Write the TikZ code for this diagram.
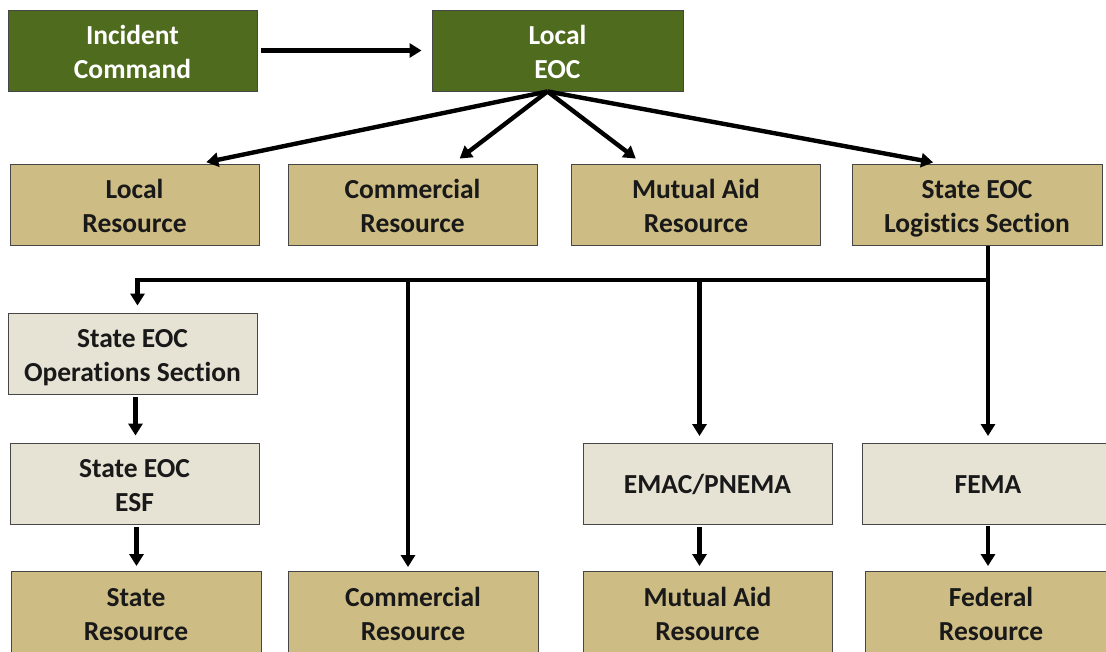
\documentclass[tikz,border=0pt]{standalone}
\usepackage{fontspec}
\setmainfont{Carlito}[Ligatures=NoCommon]
\usetikzlibrary{arrows.meta,calc}
\definecolor{dgreen}{RGB}{79,107,30}
\definecolor{tan}{RGB}{205,188,132}
\definecolor{beige}{RGB}{230,226,212}
\definecolor{edge}{RGB}{70,70,70}
\tikzset{
  box/.style={draw=edge,line width=0.9pt,minimum width=249pt,minimum height=81pt,inner sep=0pt,
    align=center,font=\fontsize{27.5}{34}\selectfont\bfseries,text=black!90,
    text height=56pt,text depth=0pt},
  oneline/.style={text height=18pt,text depth=0pt},
  gbox/.style={box,fill=dgreen,text=white},
  tbox/.style={box,fill=tan},
  bbox/.style={box,fill=beige},
  arr/.style={line width=4.4pt,-{Triangle[width=14pt,length=12pt]}}
}
\begin{document}
\begin{tikzpicture}[x=1pt,y=-1pt]
\useasboundingbox (0,0) rectangle (1106,652);
% row 1
\node[gbox] (ic) at (132.5,50.5) {Incident\\Command};
\node[gbox,minimum width=251pt] (leoc) at (557.5,50.5) {Local\\EOC};
% row 2
\node[tbox] (lr) at (134.5,205) {Local\\Resource};
\node[tbox] (cr) at (412.5,205) {Commercial\\Resource};
\node[tbox] (mr) at (696,205) {Mutual Aid\\Resource};
\node[tbox,minimum width=250pt] (log) at (977,205) {State EOC\\Logistics Section};
% row 3
\node[bbox] (ops) at (132.5,353.5) {State EOC\\Operations Section};
% row 4
\node[bbox] (esf) at (134.5,483.5) {State EOC\\ESF};
\node[bbox,oneline] (emac) at (707.5,484) {EMAC/PNEMA};
\node[bbox,oneline,minimum width=252pt] (fema) at (988,484) {FEMA};
% row 5
\node[tbox,minimum width=250pt] (sr) at (136,612) {State\\Resource};
\node[tbox,minimum width=250pt] (cr2) at (413,612) {Commercial\\Resource};
\node[tbox] (mr2) at (707.5,612) {Mutual Aid\\Resource};
\node[tbox,minimum width=252pt] (fr) at (991,612) {Federal\\Resource};
% connector anchor points
\coordinate (src) at ([xshift=-10pt]leoc.south);
\coordinate (tLR) at ([xshift=63pt]lr.north);
\coordinate (tCR) at ([xshift=40pt]cr.north);
\coordinate (tMR) at ([xshift=-53pt]mr.north);
\coordinate (tLOG) at ([xshift=-35pt]log.north);
\coordinate (busR) at ($(log.south -| fema.north)+(0,34)$);
\coordinate (tOPS) at ([xshift=5pt]ops.north);
\coordinate (tCR2) at ([xshift=-5pt]cr2.north);
\coordinate (tEMAC) at ([xshift=-8pt]emac.north);
\coordinate (sEMAC) at ([xshift=-8pt]emac.south);
\coordinate (sOPS) at ([xshift=3pt]ops.south);
\coordinate (sESF) at ([xshift=2pt]esf.south);
% connectors
\draw[arr,shorten <=4pt,shorten >=10pt] (ic.east) -- (leoc.west);
\draw[arr,shorten >=9pt] (src) -- (tLR);
\draw[arr,shorten >=9pt] (src) -- (tCR);
\draw[arr,shorten >=9pt] (src) -- (tMR);
\draw[arr,shorten >=9pt] (src) -- (tLOG);
\draw[arr,shorten >=7pt] (log.south -| fema.north) -- (fema.north);
\draw[arr,shorten >=7pt] (busR) -| (tOPS);
\draw[arr,shorten >=4pt] (busR -| tCR2) -- (tCR2);
\draw[arr,shorten >=7pt] (busR -| tEMAC) -- (tEMAC);
\draw[arr,shorten <=3pt,shorten >=7pt] (sOPS) -- (sOPS |- esf.north);
\draw[arr,shorten <=3pt,shorten >=5pt] (sESF) -- (sESF |- sr.north);
\draw[arr,shorten <=2pt,shorten >=5pt] (sEMAC) -- (sEMAC |- mr2.north);
\draw[arr,shorten <=1pt,shorten >=5pt] (fema.south) -- (fema.south |- fr.north);
\end{tikzpicture}
\end{document}
